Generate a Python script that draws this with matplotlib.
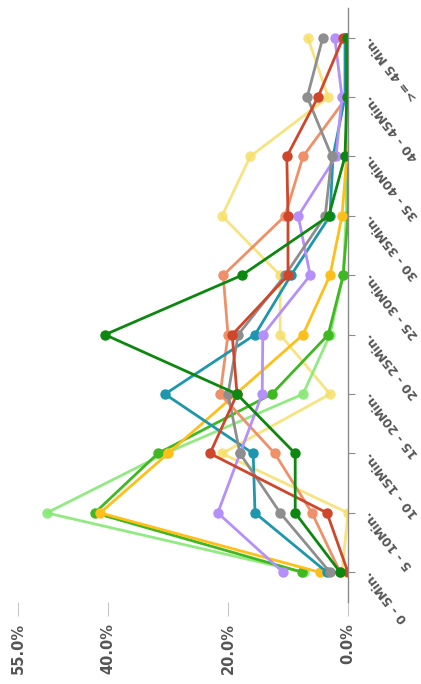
import matplotlib
matplotlib.use('Agg')
import matplotlib.pyplot as plt

# categories from bottom (0 - 5) to top (>= 45)
categories = ["0 - 5Min.", "5 - 10Min.", "10 - 15Min.", "15 - 20Min.", "20 - 25Min.",
              "25 - 30Min.", "30 - 35Min.", "35 - 40Min.", "40 - 45Min.", ">= 45 Min."]

# share of orders per bucket, in %
dark_green = [1.3, 8.8, 8.8, 18.5, 40.5, 17.7, 3.2, 0.5, 0.2, 0.2]
light_green = [7.3, 50.2, 30.5, 7.5, 3.0, 0.8, 0.3, 0.2, 0.2, 0.2]
green = [7.6, 42.2, 31.7, 12.7, 3.3, 0.8, 0.0, 0.0, 0.0, 0.0]
gold = [4.7, 41.3, 30.0, 18.7, 7.5, 3.0, 1.0, 0.2, 0.3, 0.2]
pale_yellow = [1.0, 0.0, 21.0, 3.0, 11.3, 11.3, 21.0, 16.3, 3.3, 6.7]
teal = [3.5, 15.5, 15.8, 30.5, 15.5, 9.5, 3.0, 2.5, 0.5, 0.5]
purple = [10.8, 21.7, 18.0, 14.3, 14.2, 6.3, 8.3, 2.0, 1.0, 2.2]
gray = [3.0, 11.3, 18.0, 20.0, 18.3, 10.5, 3.8, 2.7, 6.8, 4.2]
red = [0.0, 3.5, 23.0, 18.5, 19.3, 10.0, 10.0, 10.2, 5.0, 0.8]
salmon = [1.3, 6.0, 12.2, 21.3, 20.0, 20.8, 10.5, 7.5, 0.2, 0.3]

x_ticks = [0, 20, 40, 55]

series = [
    (pale_yellow, "#f6e06a", 0.85),
    (light_green, "#86e874", 0.9),
    (green, "#3fb822", 1.0),
    (gold, "#ffbf1a", 1.0),
    (salmon, "#ef9068", 1.0),
    (teal, "#1c97ad", 1.0),
    (purple, "#b590fb", 1.0),
    (gray, "#8e8e8e", 1.0),
    (red, "#d0462a", 1.0),
    (dark_green, "#0c870f", 1.0),
]

fig = plt.figure(figsize=(4.21, 6.84), dpi=100)
ax = fig.add_axes([18 / 421, 82 / 684, 330 / 421, 594 / 684])

pos = list(range(len(categories)))
for vals, col, a in series:
    ax.plot(vals, pos, color=col, alpha=a, lw=2, marker='o', ms=7.5, mec=col, mew=0)

ax.set_xlim(55, 0)
ax.set_ylim(-0.5, len(categories) - 0.5)

for s in ['left', 'top', 'bottom']:
    ax.spines[s].set_visible(False)
ax.spines['right'].set_color('#8a8a8a')
ax.spines['right'].set_linewidth(1)

ax.yaxis.tick_right()
ax.set_yticks(pos)
ax.set_yticklabels(categories)
ax.tick_params(axis='y', length=5, color='#8a8a8a', pad=9, labelsize=9, labelcolor='#555555')
for lbl in ax.get_yticklabels():
    lbl.set_rotation(128)
    lbl.set_rotation_mode('anchor')
    lbl.set_ha('right')
    lbl.set_va('center')
    lbl.set_fontweight('bold')

ax.set_xticks(x_ticks)
ax.set_xticklabels([f"{v:.1f}%" for v in x_ticks])
ax.tick_params(axis='x', length=10, color='#c8c8c8', pad=5, labelsize=10.5, labelcolor='#555555')
for lbl in ax.get_xticklabels():
    lbl.set_rotation(90)
    lbl.set_fontweight('bold')

fig.savefig("out.png", dpi=100)
